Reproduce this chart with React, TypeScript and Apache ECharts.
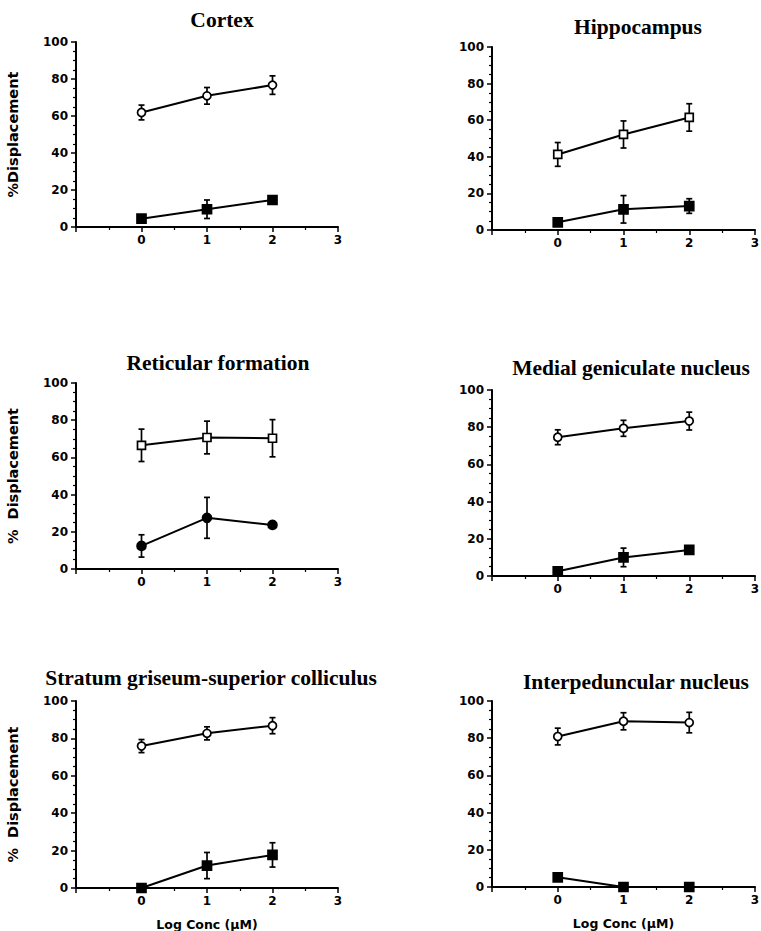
import React, { useEffect, useRef } from "react";
import * as echarts from "echarts";

const xs = [0, 1, 2];
const yTicks = [0, 20, 40, 60, 80, 100];
const xTicks = [0, 1, 2, 3];

const titles = [
  "Cortex",
  "Hippocampus",
  "Reticular formation",
  "Medial geniculate nucleus",
  "Stratum griseum-superior colliculus",
  "Interpeduncular nucleus",
];

const cortexOpen = [61.9, 70.9, 76.7];
const cortexOpenErr = [4, 4.5, 5];
const cortexFilled = [4.5, 9.6, 14.6];
const cortexFilledErr = [0, 5, 1];

const hippoOpen = [41.3, 52.2, 61.5];
const hippoOpenErr = [6.5, 7.4, 7.5];
const hippoFilled = [4.2, 11.3, 13.1];
const hippoFilledErr = [2, 7.5, 4];

const reticOpen = [66.5, 70.7, 70.3];
const reticOpenErr = [8.7, 8.8, 10];
const reticFilled = [12.4, 27.5, 23.7];
const reticFilledErr = [6, 11, 0];

const medialOpen = [74.6, 79.4, 83.3];
const medialOpenErr = [4, 4.3, 4.8];
const medialFilled = [2.5, 10, 14];
const medialFilledErr = [0, 5, 1];

const stratumOpen = [75.9, 82.7, 86.8];
const stratumOpenErr = [3.5, 3.5, 4.3];
const stratumFilled = [0, 12, 17.7];
const stratumFilledErr = [0, 7, 6.5];

const interOpen = [80.9, 89.1, 88.4];
const interOpenErr = [4.5, 4.6, 5.5];
const interFilled = [5.2, 0, 0];
const interFilledErr = [0, 0, 0];

const yNames = ["%Displacement", "", "%  Displacement", "", "%  Displacement", ""];
const xNames = ["", "", "", "", "Log Conc (\u00B5M)", "Log Conc (\u00B5M)"];

const panels = [
  { open: cortexOpen, openErr: cortexOpenErr, filled: cortexFilled, filledErr: cortexFilledErr, openSym: "circle", filledSym: "rect" },
  { open: hippoOpen, openErr: hippoOpenErr, filled: hippoFilled, filledErr: hippoFilledErr, openSym: "rect", filledSym: "rect" },
  { open: reticOpen, openErr: reticOpenErr, filled: reticFilled, filledErr: reticFilledErr, openSym: "rect", filledSym: "circle" },
  { open: medialOpen, openErr: medialOpenErr, filled: medialFilled, filledErr: medialFilledErr, openSym: "circle", filledSym: "rect" },
  { open: stratumOpen, openErr: stratumOpenErr, filled: stratumFilled, filledErr: stratumFilledErr, openSym: "circle", filledSym: "rect" },
  { open: interOpen, openErr: interOpenErr, filled: interFilled, filledErr: interFilledErr, openSym: "circle", filledSym: "rect" },
];

// layout (pixels)
const grids = [
  { left: 76, top: 42, width: 262, height: 185 },
  { left: 492, top: 47, width: 263, height: 183 },
  { left: 76, top: 383, width: 262, height: 186 },
  { left: 492, top: 390, width: 263, height: 186 },
  { left: 76, top: 701, width: 262, height: 187 },
  { left: 492, top: 701, width: 263, height: 186 },
];
const titlePos = [
  [222, 20],
  [638, 27],
  [218, 363],
  [631, 368],
  [211, 678],
  [636, 682],
];

const sans = "DejaVu Sans";
const serif = "Liberation Serif";

function errRender(params: any, api: any) {
  const x = api.value(0);
  const y = api.value(1);
  const e = api.value(2);
  if (!e) return { type: "group", children: [] };
  const t = api.coord([x, y + e]);
  const b = api.coord([x, y - e]);
  const w = 3;
  const st = { stroke: "#000", lineWidth: 1.7 };
  return {
    type: "group",
    children: [
      { type: "line", shape: { x1: t[0], y1: t[1], x2: b[0], y2: b[1] }, style: st },
      { type: "line", shape: { x1: t[0] - w, y1: t[1], x2: t[0] + w, y2: t[1] }, style: st },
      { type: "line", shape: { x1: b[0] - w, y1: b[1], x2: b[0] + w, y2: b[1] }, style: st },
    ],
  };
}

export default function App() {
  const ref = useRef<HTMLDivElement>(null);
  useEffect(() => {
    if (!ref.current) return;
    const chart = echarts.init(ref.current, null, { renderer: "svg" });
    const grid: any[] = [];
    const xAxis: any[] = [];
    const yAxis: any[] = [];
    const series: any[] = [];
    const graphic: any[] = [];
    panels.forEach((p, i) => {
      grid.push({ ...grids[i], outerBoundsMode: "none", containLabel: false });
      xAxis.push({
        type: "value",
        gridIndex: i,
        min: -1,
        max: 3,
        interval: 1,
        name: xNames[i],
        nameLocation: "middle",
        nameGap: 30,
        nameTextStyle: { fontFamily: sans, fontWeight: "bold", fontSize: 12.5, color: "#000" },
        splitLine: { show: false },
        axisLine: { onZero: false, lineStyle: { color: "#000", width: 2 } },
        axisTick: { show: true, length: 5, lineStyle: { color: "#000", width: 1.5 } },
        minorTick: { show: true, splitNumber: 2, length: 3, lineStyle: { color: "#000", width: 1.2 } },
        axisLabel: {
          margin: 7,
          fontFamily: sans,
          fontWeight: "bold",
          fontSize: 12,
          color: "#000",
          formatter: (v: number) => (xTicks.includes(v) ? String(v) : ""),
        },
      });
      yAxis.push({
        type: "value",
        gridIndex: i,
        min: 0,
        max: 100,
        interval: 20,
        name: yNames[i],
        nameLocation: "middle",
        nameGap: 56,
        nameRotate: 90,
        nameTextStyle: { fontFamily: sans, fontWeight: "bold", fontSize: 14.5, color: "#000" },
        splitLine: { show: false },
        axisLine: { onZero: false, lineStyle: { color: "#000", width: 2 } },
        axisTick: { show: true, length: 5, lineStyle: { color: "#000", width: 1.5 } },
        minorTick: { show: true, splitNumber: 4, length: 3, lineStyle: { color: "#000", width: 1.2 } },
        axisLabel: {
          margin: 8,
          fontFamily: sans,
          fontWeight: "bold",
          fontSize: 12,
          color: "#000",
          formatter: (v: number) => (yTicks.includes(v) ? String(v) : ""),
        },
      });
      const mk = (vals: number[], errs: number[], sym: string, filled: boolean) => {
        series.push({
          type: "custom",
          xAxisIndex: i,
          yAxisIndex: i,
          renderItem: errRender,
          encode: { x: 0, y: 1 },
          data: xs.map((x, k) => [x, vals[k], errs[k]]),
          z: 2,
          silent: true,
        });
        series.push({
          type: "line",
          xAxisIndex: i,
          yAxisIndex: i,
          data: xs.map((x, k) => [x, vals[k]]),
          symbol: sym,
          symbolSize: filled ? 9 : 8,
          lineStyle: { color: "#000", width: 2 },
          itemStyle: { color: filled ? "#000" : "#fff", borderColor: "#000", borderWidth: 1.7 },
          z: 3,
          silent: true,
        });
      };
      mk(p.open, p.openErr, p.openSym, false);
      mk(p.filled, p.filledErr, p.filledSym, true);
      graphic.push({
        type: "text",
        x: titlePos[i][0],
        y: titlePos[i][1],
        style: {
          text: titles[i],
          fill: "#000",
          font: `bold 21.5px "${serif}"`,
          textAlign: "center",
          textVerticalAlign: "middle",
        },
      });
    });
    chart.setOption({
      animation: false,
      backgroundColor: "#fff",
      grid,
      xAxis,
      yAxis,
      series,
      graphic,
    });
    return () => chart.dispose();
  }, []);
  return (
    <div
      ref={ref}
      style={{ position: "absolute", left: 0, top: 0, width: 761, height: 931 }}
    />
  );
}
